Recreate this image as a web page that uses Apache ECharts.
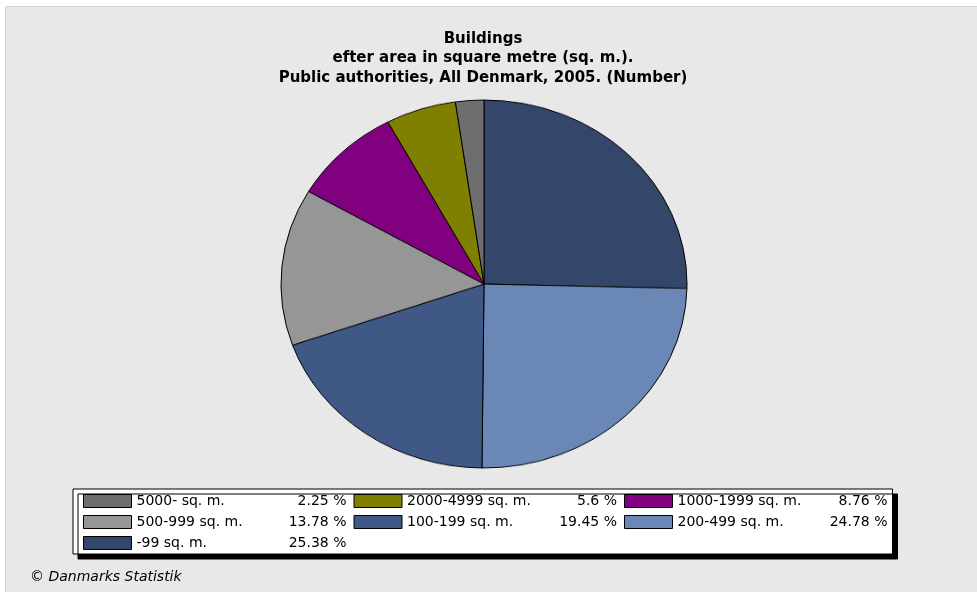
<!DOCTYPE html>
<html>
<head>
<meta charset="utf-8">
<script src="https://cdn.jsdelivr.net/npm/echarts@6/dist/echarts.min.js"></script>
<style>
html,body{margin:0;padding:0;background:#ffffff;}
#wrap{position:relative;width:977px;height:592px;overflow:hidden;}
#chart{position:absolute;left:0;top:0;width:977px;height:592px;}
#pie{position:absolute;left:0;top:0;width:977px;height:592px;transform-origin:484px 284px;transform:scaleY(0.9064);}
</style>
</head>
<body>
<div id="wrap">
<div id="chart"></div>
<div id="pie"></div>
</div>
<script>
const titleLines = ['Buildings', 'efter area in square metre (sq. m.).', 'Public authorities, All Denmark, 2005. (Number)'];
const categories = ['-99 sq. m.', '200-499 sq. m.', '100-199 sq. m.', '500-999 sq. m.', '1000-1999 sq. m.', '2000-4999 sq. m.', '5000- sq. m.'];
const shares = [25.38, 24.78, 19.45, 13.78, 8.76, 5.6, 2.25];
const colors = ['#34476b', '#6b87b5', '#405886', '#969696', '#800080', '#808000', '#6e6e6e'];
const legendOrder = ['5000- sq. m.', '2000-4999 sq. m.', '1000-1999 sq. m.', '500-999 sq. m.', '100-199 sq. m.', '200-499 sq. m.', '-99 sq. m.'];
const footer = '\u00a9 Danmarks Statistik';

const pctByName = {};
categories.forEach((c, i) => { pctByName[c] = shares[i]; });
const pieData = categories.map((c, i) => ({ name: c, value: shares[i], itemStyle: { color: colors[i] } }));

// Main chart: background, title, legend, footer
const chart = echarts.init(document.getElementById('chart'));
chart.setOption({
  backgroundColor: '#ffffff',
  animation: false,
  graphic: [
    { type: 'rect', z: -10, shape: { x: 5.5, y: 6.5, width: 980, height: 600 },
      style: { fill: '#e8e8e8', stroke: '#d4d4d4', lineWidth: 1 } },
    { type: 'text', x: 483, y: 29,
      style: { text: titleLines.join('\n'), font: 'bold 15px "DejaVu Sans"', lineHeight: 19.5,
               textAlign: 'center', textVerticalAlign: 'top', fill: '#000' } },
    { type: 'text', left: 30, top: 570,
      style: { text: footer, font: 'italic 14px "DejaVu Sans"', fill: '#000' } }
  ],
  legend: {
    data: legendOrder,
    left: 73,
    top: 489,
    width: 820,
    orient: 'horizontal',
    backgroundColor: '#ffffff',
    borderColor: '#000000',
    borderWidth: 1,
    shadowColor: '#000000',
    shadowBlur: 0,
    shadowOffsetX: 5,
    shadowOffsetY: 5,
    padding: [5, 5, 4, 10],
    itemWidth: 48,
    itemHeight: 13,
    itemGap: 7,
    icon: 'rect',
    itemStyle: { borderColor: '#000', borderWidth: 1 },
    selectedMode: false,
    formatter: function (name) {
      return '{n|' + name + '}{p|' + pctByName[name] + ' %}';
    },
    textStyle: {
      fontFamily: 'DejaVu Sans',
      fontSize: 14,
      color: '#000',
      rich: {
        n: { width: 140, fontFamily: 'DejaVu Sans', fontSize: 14, lineHeight: 14, color: '#000' },
        p: { width: 70, align: 'right', fontFamily: 'DejaVu Sans', fontSize: 14, lineHeight: 14, color: '#000' }
      }
    }
  },
  series: [{
    type: 'pie',
    center: [-1000, -1000],
    radius: 1,
    silent: true,
    label: { show: false },
    labelLine: { show: false },
    data: pieData
  }]
});

// Pie chart drawn in an overlay stretched into the reference's ellipse
const pie = echarts.init(document.getElementById('pie'));
pie.setOption({
  animation: false,
  series: [{
    type: 'pie',
    center: [484, 284],
    radius: 203,
    startAngle: 90,
    clockwise: true,
    label: { show: false },
    labelLine: { show: false },
    emphasis: { disabled: true },
    itemStyle: { borderColor: '#000000', borderWidth: 1 },
    data: pieData
  }]
});
</script>
</body>
</html>
